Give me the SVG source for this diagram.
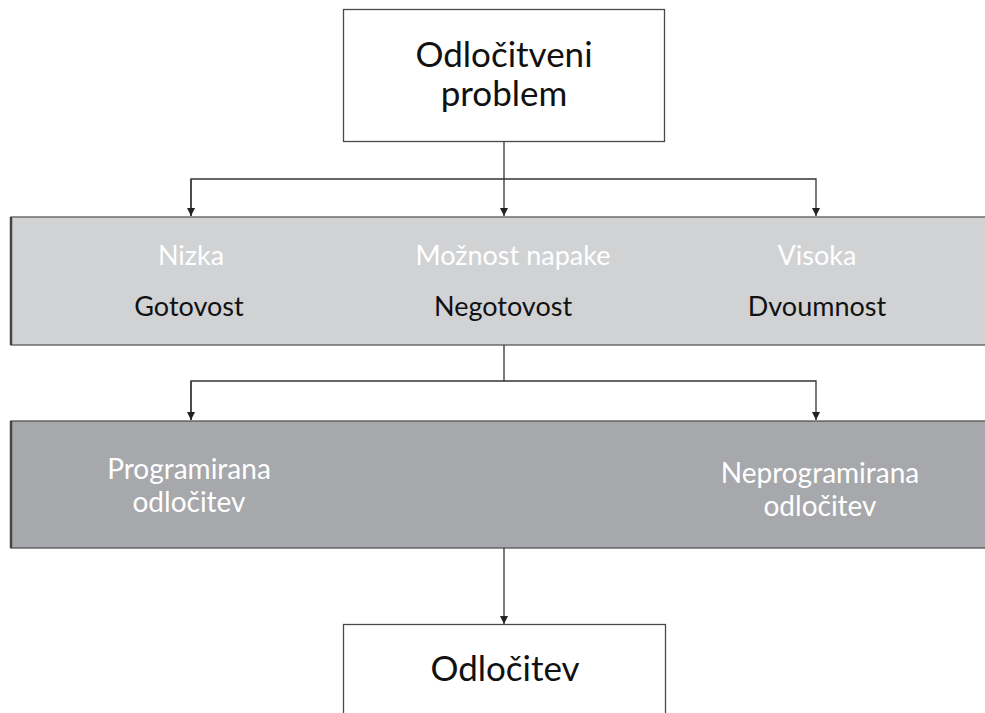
<svg xmlns="http://www.w3.org/2000/svg" width="985" height="713" viewBox="0 0 985 713">
  <style>
    .txt { font-family: "Lato", "Liberation Sans", sans-serif; text-anchor: middle; }
    .big { font-size: 35px; fill: #111; }
    .lbl { font-size: 27px; }
    .white { fill: #ffffff; }
    .dark { fill: #111111; }
    .mid { font-size: 28px; fill: #ffffff; }
    .box { fill: #ffffff; stroke: #4a4a4a; stroke-width: 1.3; }
    .conn { fill: none; stroke: #333; stroke-width: 1.3; }
  </style>
  <defs>
    <marker id="arrow" viewBox="0 0 10 10" refX="10" refY="5" markerWidth="8" markerHeight="8" markerUnits="userSpaceOnUse" orient="auto">
      <path d="M0,0 L10,5 L0,10 z" fill="#222"/>
    </marker>
  </defs>
  <rect width="985" height="713" fill="#ffffff"/>

  <g id="problem">
    <rect class="box" x="343.5" y="9.5" width="321" height="132"/>
    <text class="txt big" x="504" y="67">Odločitveni</text>
    <text class="txt big" x="504" y="106">problem</text>
  </g>

  <g id="uncertainty">
    <rect x="11" y="217" width="980" height="128" fill="#d1d2d4" stroke="#5a5a5a" stroke-width="1.3"/>
    <line x1="11" y1="217" x2="11" y2="345" stroke="#444" stroke-width="2.5"/>
    <text class="txt lbl white" x="191" y="265">Nizka</text>
    <text class="txt lbl dark" x="189" y="316">Gotovost</text>
    <text class="txt lbl white" x="513" y="265">Možnost napake</text>
    <text class="txt lbl dark" x="503" y="316">Negotovost</text>
    <text class="txt lbl white" x="817" y="265">Visoka</text>
    <text class="txt lbl dark" x="817" y="316">Dvoumnost</text>
  </g>

  <g id="decision-type">
    <rect x="11" y="421" width="980" height="127" fill="#a7a8ab" stroke="#555" stroke-width="1.3"/>
    <line x1="11" y1="421" x2="11" y2="548" stroke="#444" stroke-width="2.5"/>
    <text class="txt mid" x="189" y="479">Programirana</text>
    <text class="txt mid" x="189" y="512">odločitev</text>
    <text class="txt mid" x="820" y="483">Neprogramirana</text>
    <text class="txt mid" x="820" y="516">odločitev</text>
  </g>

  <g id="decision">
    <rect class="box" x="343.5" y="624.5" width="322" height="100"/>
    <text class="txt big" x="505" y="681">Odločitev</text>
  </g>

  <g id="connectors">
    <line class="conn" x1="504" y1="142" x2="504" y2="216" marker-end="url(#arrow)"/>
    <polyline class="conn" points="191,216 191,179 816,179 816,216" marker-end="url(#arrow)"/>
    <line class="conn" x1="191" y1="179" x2="191" y2="216" marker-end="url(#arrow)"/>
    <line class="conn" x1="504" y1="345" x2="504" y2="381"/>
    <polyline class="conn" points="191,420 191,381 816,381 816,420" marker-end="url(#arrow)"/>
    <line class="conn" x1="191" y1="381" x2="191" y2="420" marker-end="url(#arrow)"/>
    <line class="conn" x1="504" y1="548" x2="504" y2="624" marker-end="url(#arrow)"/>
  </g>
</svg>
